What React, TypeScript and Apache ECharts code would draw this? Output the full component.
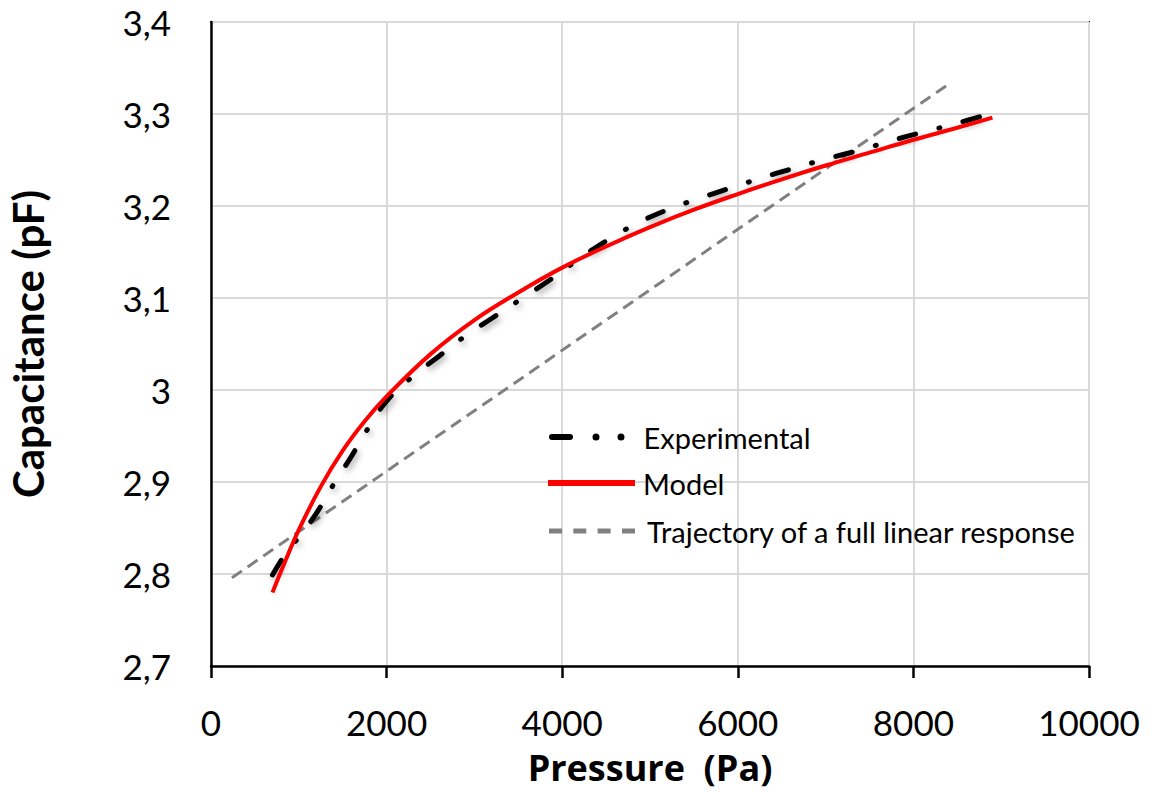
import React, { useEffect, useRef } from "react";
import * as echarts from "echarts";

const expX = [700, 850, 1000, 1200, 1400, 1600, 1800, 2000, 2300, 2600, 2900, 3200, 3550, 3850, 4200, 4500, 4850, 5200, 5550, 5900, 6250, 6600, 7000, 7400, 7750, 8100, 8500, 8900];
const expY = [2.799, 2.822, 2.840, 2.866, 2.898, 2.928, 2.960, 2.988, 3.015, 3.037, 3.059, 3.078, 3.100, 3.119, 3.143, 3.162, 3.181, 3.196, 3.208, 3.219, 3.230, 3.240, 3.251, 3.261, 3.271, 3.280, 3.290, 3.301];

const modelX = [700, 850, 1000, 1250, 1500, 1750, 2000, 2500, 3000, 3500, 4000, 4500, 5000, 5500, 6000, 6500, 7000, 7500, 8000, 8500, 8900];
const modelY = [2.780, 2.815, 2.848, 2.895, 2.934, 2.966, 2.993, 3.039, 3.076, 3.106, 3.133, 3.156, 3.177, 3.196, 3.213, 3.229, 3.244, 3.258, 3.272, 3.285, 3.296];

const linX = [239, 8394];
const linY = [2.796, 3.332];

const xTicks = { min: 0, max: 10000, interval: 2000 };
const yTicks = { min: 2.7, max: 3.4, interval: 0.1 };

const NAME_EXP = "Experimental";
const NAME_MODEL = "Model";
const NAME_LIN = "Trajectory of a full linear response";

const FONT = "Lato";

const ICON_EXP =
  "path://M3,0.5 L21,0.5 A3,3 0 0 1 21,6.5 L3,6.5 A3,3 0 0 1 3,0.5 Z " +
  "M43.5,3.5 A3.5,3.5 0 1 0 50.5,3.5 A3.5,3.5 0 1 0 43.5,3.5 Z " +
  "M68.5,3.5 A3.5,3.5 0 1 0 75.5,3.5 A3.5,3.5 0 1 0 68.5,3.5 Z";
const ICON_MODEL = "path://M0,0 L87,0 L87,6 L0,6 Z";
const ICON_LIN =
  "path://M0,0 L13,0 L13,5 L0,5 Z M24.3,0 L37.3,0 L37.3,5 L24.3,5 Z M48.6,0 L61.6,0 L61.6,5 L48.6,5 Z M73,0 L86,0 L86,5 L73,5 Z";

function pairs(xs: number[], ys: number[]) {
  return xs.map((x, i) => [x, ys[i]]);
}

function legendBlock(name: string, icon: string, left: number, centerY: number, w: number, h: number, pad: number) {
  const lh = 34;
  return {
    orient: "vertical",
    left,
    top: centerY - lh / 2,
    itemWidth: w,
    itemHeight: h,
    selectedMode: false,
    textStyle: { fontFamily: FONT, fontSize: 29, color: "#000", lineHeight: lh, padding: [0, 0, 0, pad] },
    data: [{ name, icon }],
  };
}

export default function App() {
  const ref = useRef<HTMLDivElement>(null);
  useEffect(() => {
    if (!ref.current) return;
    const chart = echarts.init(ref.current, undefined, { renderer: "svg" });
    chart.setOption({
      animation: false,
      backgroundColor: "#fff",
      textStyle: { fontFamily: FONT },
      grid: {
        left: 211,
        top: 22,
        right: 67,
        bottom: 126,
        containLabel: false,
        outerBoundsMode: "none",
        show: true,
        borderColor: "#000",
        borderWidth: 2,
        backgroundColor: "transparent",
      },
      legend: [
        legendBlock(NAME_EXP, ICON_EXP, 544, 432, 75.5, 7, 14),
        legendBlock(NAME_MODEL, ICON_MODEL, 543, 478, 87, 6, 3),
        legendBlock(NAME_LIN, ICON_LIN, 544, 526, 86, 5, 7),
      ],
      xAxis: {
        type: "value",
        min: xTicks.min,
        max: xTicks.max,
        interval: xTicks.interval,
        name: "Pressure\u00a0\u00a0(Pa)",
        nameLocation: "middle",
        nameGap: 81,
        nameTextStyle: { fontFamily: "Open Sans", fontWeight: "bold", fontSize: 36, lineHeight: 40, color: "#000" },
        axisLine: { show: true, lineStyle: { color: "#000", width: 2.5 } },
        axisTick: { show: true, inside: false, length: 12, lineStyle: { color: "#000", width: 2.5 } },
        axisLabel: { fontFamily: FONT, fontSize: 35, lineHeight: 38, color: "#000", margin: 37, formatter: (v: number) => String(v) },
        splitLine: { show: true, lineStyle: { color: "#d9d9d9", width: 2 } },
      },
      yAxis: {
        type: "value",
        min: yTicks.min,
        max: yTicks.max,
        interval: yTicks.interval,
        name: "Capacitance (pF)",
        nameLocation: "middle",
        nameGap: 162,
        nameTextStyle: { fontFamily: FONT, fontWeight: "bold", fontSize: 42, color: "#000" },
        axisLine: { show: true, lineStyle: { color: "#000", width: 2.5 } },
        axisTick: { show: false },
        axisLabel: {
          fontFamily: FONT,
          fontSize: 35,
          color: "#000",
          margin: 40,
          formatter: (v: number) => String(Math.round(v * 10) / 10).replace(".", ","),
        },
        splitLine: { show: true, lineStyle: { color: "#d9d9d9", width: 2 } },
      },
      series: [
        {
          name: NAME_LIN,
          type: "line",
          data: pairs(linX, linY),
          showSymbol: false,
          symbol: "none",
          lineStyle: { color: "#808080", width: 3, type: [12, 7] },
          itemStyle: { color: "#808080" },
          z: 2,
        },
        {
          name: NAME_EXP,
          type: "line",
          data: pairs(expX, expY),
          smooth: 0.4,
          showSymbol: false,
          symbol: "none",
          lineStyle: {
            color: "#000",
            width: 5,
            type: [17, 24, 1, 24],
            cap: "round",
            shadowBlur: 6,
            shadowColor: "rgba(0,0,0,0.35)",
            shadowOffsetX: 2,
            shadowOffsetY: 3,
          },
          itemStyle: { color: "#000" },
          z: 3,
        },
        {
          name: NAME_MODEL,
          type: "line",
          data: pairs(modelX, modelY),
          smooth: 0.4,
          showSymbol: false,
          symbol: "none",
          lineStyle: { color: "#ff0000", width: 4 },
          itemStyle: { color: "#ff0000" },
          z: 4,
        },
      ],
    });
    return () => chart.dispose();
  }, []);
  return <div ref={ref} style={{ position: "fixed", left: 0, top: 0, width: 1156, height: 792 }} />;
}
